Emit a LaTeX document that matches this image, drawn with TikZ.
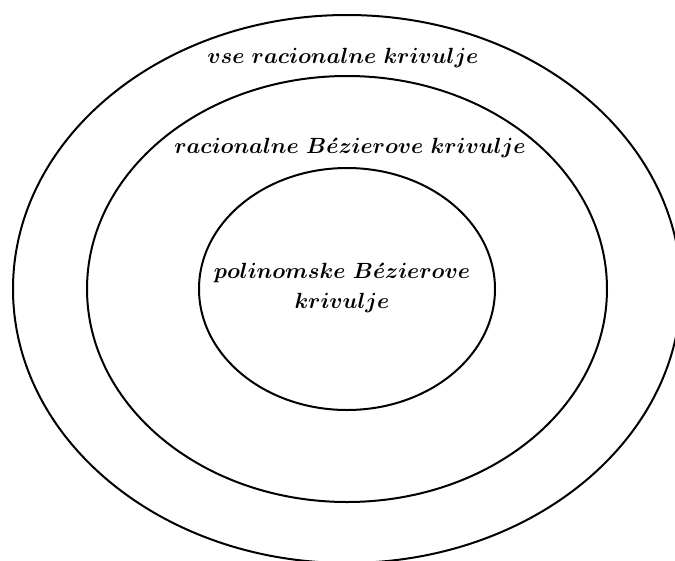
\documentclass[tikz,border=0pt]{standalone}
\usepackage{amsmath}
\begin{document}
\begin{tikzpicture}[x=1pt,y=-1pt,
  ring/.style={draw=black,line width=2pt},
  lbl/.style={font=\fontsize{10}{13.2}\selectfont\boldmath,align=center,inner sep=0pt,scale=2.2}]
\useasboundingbox (0,0) rectangle (675,560);
\clip (0,0) rectangle (675,560);
\coordinate (c) at (347,289);
\draw[ring] (c) ellipse [x radius=334, y radius=274];
\draw[ring] (c) ellipse [x radius=260, y radius=213];
\draw[ring] (c) ellipse [x radius=148, y radius=121];
\node[lbl] (t1) at (343,58) {$vse\ racionalne\ krivulje$};
\node[lbl] (t2) at (350,148) {$racionalne\ B\acute{e}zierove\ krivulje$};
\node[lbl] (t3) at (342,288) {$polinomske\ B\acute{e}zierove$\\$krivulje$};
\end{tikzpicture}
\end{document}
